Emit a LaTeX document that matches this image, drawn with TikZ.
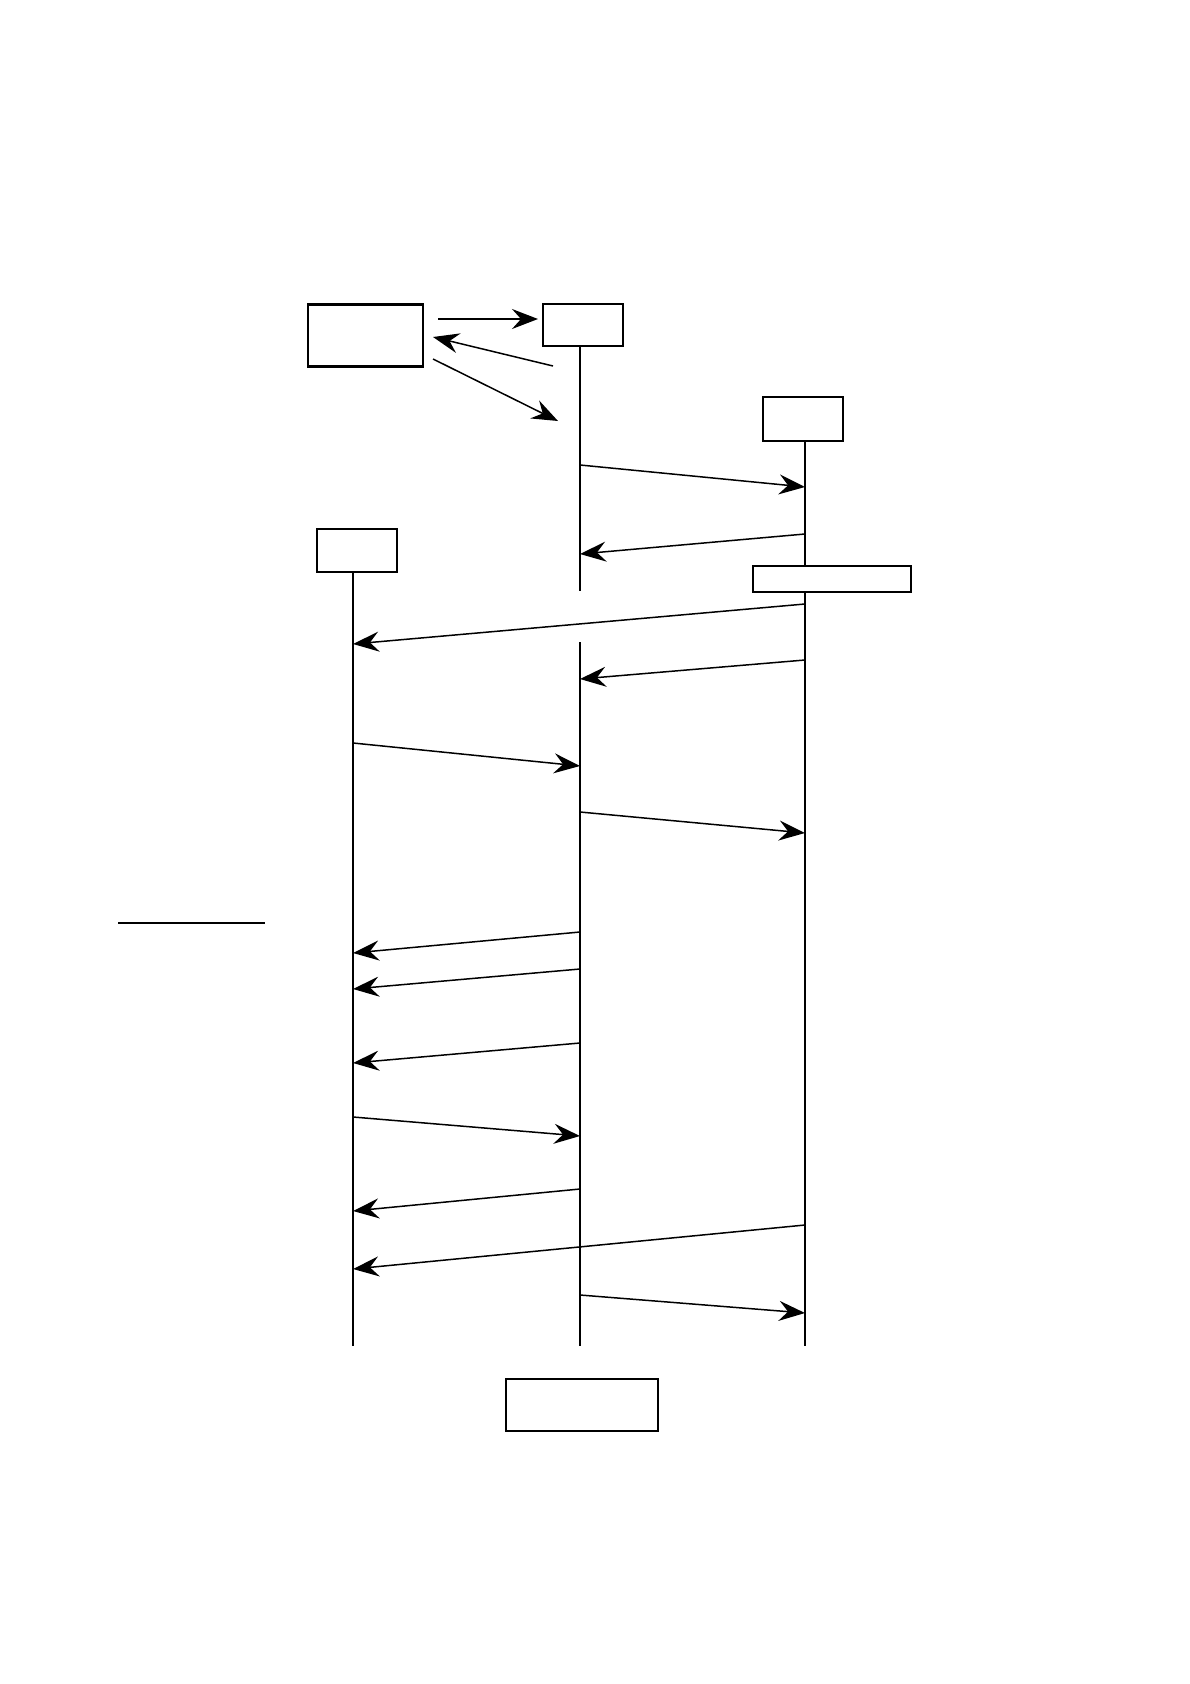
\documentclass[tikz,border=0pt]{standalone}
\usetikzlibrary{arrows.meta}
\begin{document}
\begin{tikzpicture}[x=1pt,y=-1pt,
  box/.style={draw,line width=2.2pt,inner sep=0pt,outer sep=0pt,fill=white},
  life/.style={line width=1.5pt},
  msg/.style={line width=1.5pt,-{Stealth[length=26pt,width=20pt,inset=9pt]}}]
\useasboundingbox (0,0) rectangle (1190,1684);
% boxes
\node[box,minimum width=115pt,minimum height=62pt] (A) at (365.5,335.5) {};
\node[box,minimum width=80pt,minimum height=42pt] (B) at (583,325) {};
\node[box,minimum width=80pt,minimum height=44pt] (C) at (803,419) {};
\node[box,minimum width=80pt,minimum height=43pt] (E) at (357,550.5) {};
\node[box,minimum width=158pt,minimum height=26pt] (D) at (832,579) {};
\node[box,minimum width=152pt,minimum height=52pt] (F) at (582,1405) {};
% lifeline coordinates
\coordinate (m0) at (580,346); \coordinate (m1) at (580,591);
\coordinate (m2) at (580,642); \coordinate (m3) at (580,1346);
\coordinate (r0) at (805,441); \coordinate (r1) at (805,566);
\coordinate (r2) at (805,592); \coordinate (r3) at (805,1346);
\coordinate (l0) at (353,572); \coordinate (l1) at (353,1346);
\draw[life] (m0) -- (m1);
\draw[life] (m2) -- (m3);
\draw[life] (r0) -- (r1);
\draw[life] (r2) -- (r3);
\draw[life] (l0) -- (l1);
% top arrows
\coordinate (t1s) at (438,319); \coordinate (t1e) at (538,319);
\coordinate (t2s) at (553,366); \coordinate (t2e) at (433,337);
\coordinate (t3s) at (433,359); \coordinate (t3e) at (558,421);
\draw[msg] (t1s) -- (t1e);
\draw[msg] (t2s) -- (t2e);
\draw[msg] (t3s) -- (t3e);
% messages
\coordinate (a1s) at (580,465); \coordinate (a1e) at (805,487);
\coordinate (a2s) at (805,534); \coordinate (a2e) at (580,554);
\coordinate (a3s) at (805,604); \coordinate (a3e) at (353,644);
\coordinate (a4s) at (805,660); \coordinate (a4e) at (580,679);
\coordinate (a5s) at (353,743); \coordinate (a5e) at (580,766);
\coordinate (a6s) at (580,812); \coordinate (a6e) at (805,833);
\coordinate (a7s) at (580,932); \coordinate (a7e) at (353,953);
\coordinate (a8s) at (580,969); \coordinate (a8e) at (353,989);
\coordinate (a9s) at (580,1043); \coordinate (a9e) at (353,1063);
\coordinate (b1s) at (353,1117); \coordinate (b1e) at (580,1136);
\coordinate (b2s) at (580,1189); \coordinate (b2e) at (353,1211);
\coordinate (b3s) at (805,1225); \coordinate (b3e) at (353,1269);
\coordinate (b4s) at (580,1295); \coordinate (b4e) at (805,1313);
\foreach \p in {a1,a2,a3,a4,a5,a6,a7,a8,a9,b1,b2,b3,b4}
  \draw[msg] (\p s) -- (\p e);
% side line
\coordinate (h1) at (118,923); \coordinate (h2) at (265,923);
\draw[line width=2pt] (h1) -- (h2);
\end{tikzpicture}
\end{document}
